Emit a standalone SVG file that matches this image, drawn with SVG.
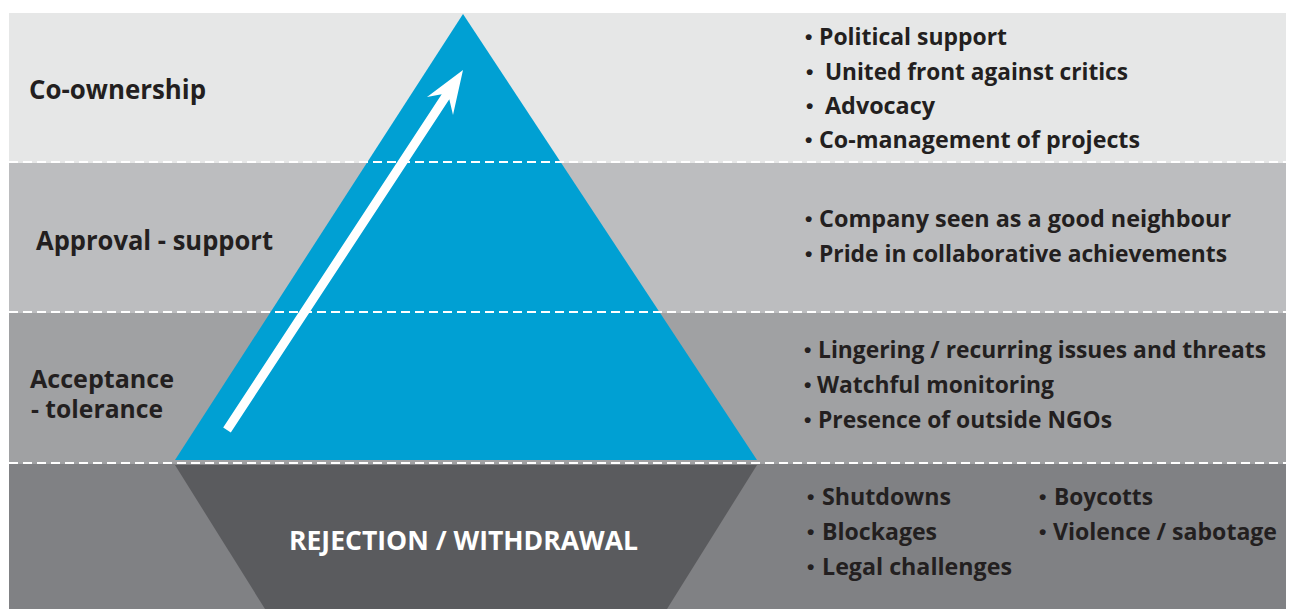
<svg xmlns="http://www.w3.org/2000/svg" width="1293" height="609" viewBox="0 0 1293 609">
<style>
.lbl{font-family:"Open Sans","Noto Sans","Liberation Sans",sans-serif;font-weight:700;font-size:26px;fill:#231f20}
.lbl2{font-family:"Open Sans","Noto Sans","Liberation Sans",sans-serif;font-weight:700;font-size:25px;fill:#231f20}
.itm{font-family:"Open Sans","Noto Sans","Liberation Sans",sans-serif;font-weight:700;font-size:24px;fill:#231f20}
.bul{font-family:"Liberation Sans",sans-serif;font-weight:700;font-size:21px;fill:#231f20}
.rej{font-family:"Open Sans","Noto Sans","Liberation Sans",sans-serif;font-weight:700;font-size:27px;fill:#ffffff}
.dash{stroke:#ffffff;stroke-width:2;stroke-dasharray:9 5;fill:none}
</style>
<rect x="0" y="0" width="1293" height="609" fill="#ffffff"/>
<g id="band-coownership">
<rect x="9" y="13" width="1277" height="150" fill="#e6e7e7"/>
<text class="lbl" x="29" y="99" textLength="177" lengthAdjust="spacingAndGlyphs">Co-ownership</text>
</g>
<g id="band-approval">
<rect x="9" y="163" width="1277" height="150" fill="#bcbdbf"/>
<text class="lbl" x="36" y="250" textLength="237" lengthAdjust="spacingAndGlyphs">Approval - support</text>
</g>
<g id="band-acceptance">
<rect x="9" y="313" width="1277" height="151" fill="#a0a1a3"/>
<text class="lbl2" x="30" y="388" textLength="144" lengthAdjust="spacingAndGlyphs">Acceptance</text>
<text class="lbl2" x="31" y="418" textLength="132" lengthAdjust="spacingAndGlyphs">- tolerance</text>
</g>
<g id="band-rejection">
<rect x="9" y="464" width="1277" height="145" fill="#808184"/>
</g>
<g id="pyramid">
<polygon points="463,14 757,460 175,460" fill="#00a0d3"/>
</g>
<g id="rejection">
<polygon points="175,465 757,465 667,609 265,609" fill="#5a5b5e"/>
<text class="rej" x="289" y="550" textLength="349" lengthAdjust="spacingAndGlyphs">REJECTION / WITHDRAWAL</text>
</g>
<g id="dividers">
<line class="dash" x1="9" y1="162" x2="1286" y2="162"/>
<line class="dash" x1="9" y1="312" x2="1286" y2="312"/>
<line class="dash" x1="9" y1="463" x2="1286" y2="463"/>
</g>
<g id="connectors">
<polygon points="463,70 453,115 449.3,99.3 230.8,432.5 223.2,427.5 441.7,94.3 427,97" fill="#ffffff"/>
</g>
<g id="list-coownership">
<text class="bul" x="805" y="44">•</text>
<text class="itm" x="819" y="45" textLength="188" lengthAdjust="spacingAndGlyphs">Political support</text>
<text class="bul" x="806" y="79">•</text>
<text class="itm" x="825" y="80" textLength="303" lengthAdjust="spacingAndGlyphs">United front against critics</text>
<text class="bul" x="806" y="113">•</text>
<text class="itm" x="825" y="114" textLength="110" lengthAdjust="spacingAndGlyphs">Advocacy</text>
<text class="bul" x="805" y="147">•</text>
<text class="itm" x="819" y="148" textLength="321" lengthAdjust="spacingAndGlyphs">Co-management of projects</text>
</g>
<g id="list-approval">
<text class="bul" x="805" y="226">•</text>
<text class="itm" x="819" y="227" textLength="412" lengthAdjust="spacingAndGlyphs">Company seen as a good neighbour</text>
<text class="bul" x="805" y="261">•</text>
<text class="itm" x="819" y="262" textLength="408" lengthAdjust="spacingAndGlyphs">Pride in collaborative achievements</text>
</g>
<g id="list-acceptance">
<text class="bul" x="804" y="357">•</text>
<text class="itm" x="818" y="358" textLength="448" lengthAdjust="spacingAndGlyphs">Lingering / recurring issues and threats</text>
<text class="bul" x="804" y="392">•</text>
<text class="itm" x="817" y="393" textLength="237" lengthAdjust="spacingAndGlyphs">Watchful monitoring</text>
<text class="bul" x="804" y="427">•</text>
<text class="itm" x="818" y="428" textLength="294" lengthAdjust="spacingAndGlyphs">Presence of outside NGOs</text>
</g>
<g id="list-rejection">
<text class="bul" x="807" y="504">•</text>
<text class="itm" x="822" y="505" textLength="129" lengthAdjust="spacingAndGlyphs">Shutdowns</text>
<text class="bul" x="807" y="539">•</text>
<text class="itm" x="822" y="540" textLength="115" lengthAdjust="spacingAndGlyphs">Blockages</text>
<text class="bul" x="807" y="574">•</text>
<text class="itm" x="822" y="575" textLength="190" lengthAdjust="spacingAndGlyphs">Legal challenges</text>
<text class="bul" x="1039" y="504">•</text>
<text class="itm" x="1054" y="505" textLength="99" lengthAdjust="spacingAndGlyphs">Boycotts</text>
<text class="bul" x="1039" y="539">•</text>
<text class="itm" x="1053" y="540" textLength="224" lengthAdjust="spacingAndGlyphs">Violence / sabotage</text>
</g>
</svg>
